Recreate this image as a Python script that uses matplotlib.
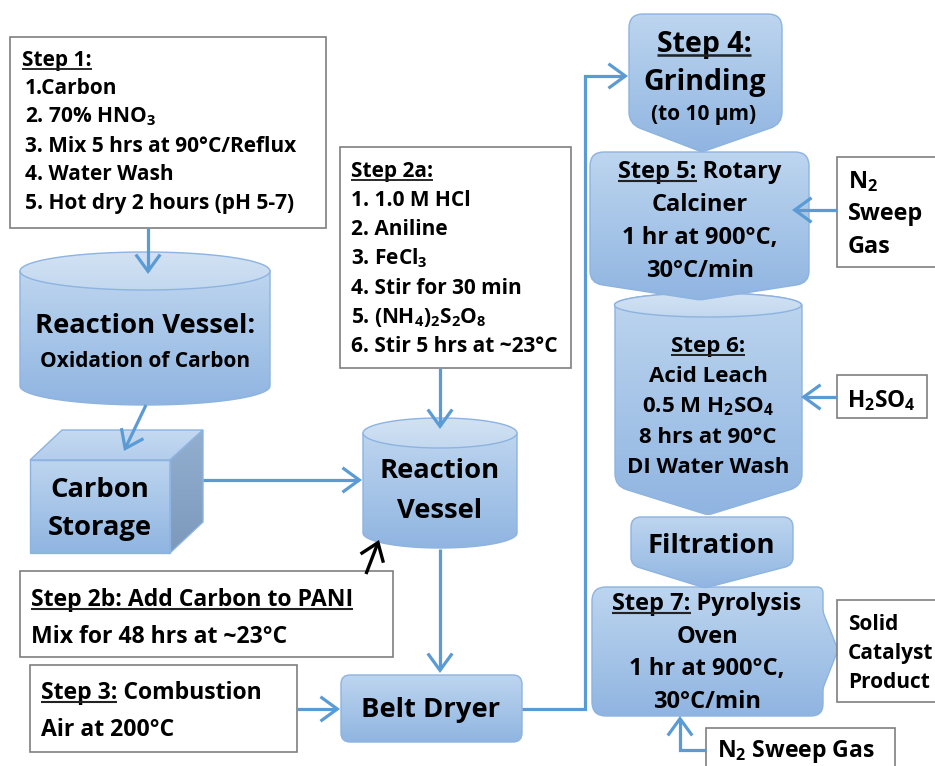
import matplotlib
matplotlib.use('Agg')
import matplotlib.pyplot as plt
import numpy as np
from matplotlib.path import Path
from matplotlib.patches import PathPatch, Rectangle, FancyArrowPatch, ArrowStyle
from matplotlib.colors import LinearSegmentedColormap

plt.rcParams['mathtext.fontset'] = 'custom'
plt.rcParams['mathtext.default'] = 'regular'
FONT = ['Open Sans', 'DejaVu Sans']

# texts of the flow chart
step1_lines = ['1.Carbon', '2. 70% HNO$_3$', '3. Mix 5 hrs at 90°C/Reflux',
               '4. Water Wash', '5. Hot dry 2 hours (pH 5-7)']
step2a_lines = ['1. 1.0 M HCl', '2. Aniline', '3. FeCl$_3$', '4. Stir for 30 min',
                '5. (NH$_4$)$_2$S$_2$O$_8$', '6. Stir 5 hrs at ~23°C']
step2b_lines = ['Step 2b: Add Carbon to PANI', 'Mix for 48 hrs at ~23°C']
step3_lines = ['Step 3: Combustion', 'Air at 200°C']
step4_lines = ['Step 4:', 'Grinding', '(to 10 µm)']
step5_lines = ['Step 5: Rotary', 'Calciner', '1 hr at 900°C,', '30°C/min']
step6_lines = ['Step 6:', 'Acid Leach', '0.5 M H$_2$SO$_4$', '8 hrs at 90°C', 'DI Water Wash']
step7_lines = ['Step 7: Pyrolysis', 'Oven', '1 hr at 900°C,', '30°C/min']
sweep_lines = ['N$_2$', 'Sweep', 'Gas']
product_lines = ['Solid', 'Catalyst', 'Product']

FS = 15
BIG = 19.7
ARROW = '#5B9BD5'
EDGE = '#8DB3E0'
TOP, BOT = '#BDD5EF', '#90B5E1'

fig = plt.figure(figsize=(9.35, 7.66), dpi=100)
ax = fig.add_axes([0, 0, 1, 1])
ax.set_xlim(0, 935)
ax.set_ylim(766, 0)
ax.axis('off')

underlines = []


def txt(x, y, s, size=FS, ha='left', under=None):
    t = ax.text(x, y, s, fontsize=size, fontweight='bold', ha=ha, va='baseline',
                family=FONT, color='black', zorder=20)
    if under:
        underlines.append((t, under, size))
    return t


def rounded_path(pts, r):
    verts, codes = [], []
    n = len(pts)
    for i in range(n):
        p0, p1, p2 = np.array(pts[i - 1], float), np.array(pts[i], float), np.array(pts[(i + 1) % n], float)
        rr = r[i] if np.iterable(r) else r
        if rr <= 0:
            verts.append(p1)
            codes.append(Path.MOVETO if i == 0 else Path.LINETO)
            continue
        d1, d2 = p0 - p1, p2 - p1
        l1, l2 = np.hypot(*d1), np.hypot(*d2)
        rr = min(rr, l1 / 2, l2 / 2)
        a, b = p1 + d1 / l1 * rr, p1 + d2 / l2 * rr
        verts += [a, p1, b]
        codes += [Path.MOVETO if i == 0 else Path.LINETO, Path.CURVE3, Path.CURVE3]
    verts.append(verts[0])
    codes.append(Path.CLOSEPOLY)
    return Path(verts, codes)


def shade(path, z, top=TOP, bot=BOT, edge=EDGE):
    patch = PathPatch(path, facecolor='none', edgecolor=edge, lw=1, zorder=z + 0.1)
    ax.add_patch(patch)
    ext = path.get_extents()
    cmap = LinearSegmentedColormap.from_list('g', [top, bot])
    ax.imshow(np.linspace(0, 1, 200)[:, None], cmap=cmap, aspect='auto',
              extent=(ext.x0, ext.x1, ext.y1, ext.y0), zorder=z, clip_path=patch,
              interpolation='bilinear')


def cylinder(x0, x1, yt, yb, ry, z):
    cx, rx = (x0 + x1) / 2, (x1 - x0) / 2
    # side walls plus the lower half of the bottom ellipse (y grows downward)
    pts = [(x0, yt)] + [(cx - rx * np.cos(a), yb + ry * np.sin(a)) for a in np.linspace(0, np.pi, 60)]
    pts += [(x1, yt)]
    shade(Path(pts + [pts[0]], closed=True), z)
    top = [(cx + rx * np.cos(a), yt + ry * np.sin(a)) for a in np.linspace(0, 2 * np.pi, 100)]
    shade(Path(top, closed=True), z + 0.2, top='#D2E2F3', bot='#C3D8EF')


def box(x0, y0, x1, y1, z=5):
    ax.add_patch(Rectangle((x0, y0), x1 - x0, y1 - y0, facecolor='white',
                           edgecolor='#7F7F7F', lw=1.2, zorder=z))


def arrow(pts, color=ARROW, lw=2.3):
    ax.add_patch(FancyArrowPatch(path=Path(pts), arrowstyle=ArrowStyle('->', head_length=0.55, head_width=0.4),
                                 mutation_scale=22, color=color, lw=lw, zorder=15,
                                 shrinkA=0, shrinkB=0, capstyle='butt', joinstyle='miter'))


# ---- Step 1 box and reaction vessel
box(10, 37, 326, 228)
txt(22, 66, 'Step 1:', under='Step 1:')
for i, s in enumerate(step1_lines):
    txt(25, 94 + 28.8 * i, s)
arrow([(148, 228), (148, 274)])

cylinder(20, 270, 271, 386, 19, 2)
txt(145, 333, 'Reaction Vessel:', size=BIG, ha='center')
txt(145, 367, 'Oxidation of Carbon', size=15, ha='center')
arrow([(146, 405), (124, 451)])

# ---- carbon storage cube
front = [(30, 460), (170, 460), (170, 553), (30, 553)]
shade(Path(front + [front[0]], closed=True), 3)
topf = [(30, 460), (62, 430), (203, 430), (170, 460)]
shade(Path(topf + [topf[0]], closed=True), 3, top='#C5DAF1', bot='#B3CDEC')
side = [(170, 460), (203, 430), (203, 522), (170, 553)]
shade(Path(side + [side[0]], closed=True), 3, top='#93AFD0', bot='#7C98BB')
txt(100, 497, 'Carbon', size=BIG, ha='center')
txt(100, 535, 'Storage', size=BIG, ha='center')
arrow([(203, 480), (362, 480)])

# ---- Step 2a and second reaction vessel
box(340, 147, 571, 368)
txt(351, 177, 'Step 2a:', under='Step 2a:')
for i, s in enumerate(step2a_lines):
    txt(351, 206 + 29.3 * i, s)
arrow([(440, 368), (440, 429)])

cylinder(363, 517, 433, 533, 15, 2)
txt(440, 478, 'Reaction', size=BIG, ha='center')
txt(440, 518, 'Vessel', size=BIG, ha='center')

box(20, 571, 393, 657)
txt(31, 606, step2b_lines[0], size=16.6, under='Step 2b: Add Carbon to PANI')
txt(31, 643, step2b_lines[1], size=16.6)
arrow([(366, 574), (379, 540)], color='black', lw=2.4)

box(30, 665, 297, 752)
txt(41, 699, step3_lines[0], size=16.6, under='Step 3:')
txt(41, 736, step3_lines[1], size=16.6)

# ---- belt dryer
arrow([(440, 549), (440, 673)])
shade(rounded_path([(341, 675), (522, 675), (522, 742), (341, 742)], 9), 2)
txt(431, 717, 'Belt Dryer', size=BIG, ha='center')
arrow([(297, 709), (340, 709)])
arrow([(522, 709), (585, 709), (585, 76), (628, 76)])

# ---- right column
st6 = [(802, 305)] + [(708 + 93.5 * np.cos(a), 305 - 12 * np.sin(a)) for a in np.linspace(0, np.pi, 60)][1:-1] \
      + [(615, 305), (615, 486), (708, 515), (802, 486)]
rad6 = [0] * 59 + [0, 12, 4, 12]
shade(rounded_path(st6, rad6), 2)
top6 = [(708 + 93.5 * np.cos(a), 305 + 12 * np.sin(a)) for a in np.linspace(0, 2 * np.pi, 100)]
shade(Path(top6, closed=True), 2.2, top='#D2E2F3', bot='#C3D8EF')

shade(rounded_path([(629, 14), (782, 14), (782, 124), (702, 152), (629, 124)], [14, 14, 12, 3, 12]), 4)
shade(rounded_path([(590, 152), (809, 152), (809, 283), (700, 300), (590, 283)], [14, 14, 12, 3, 12]), 4)
shade(rounded_path([(631, 517), (793, 517), (793, 565), (705, 588), (631, 565)], [10, 10, 8, 3, 8]), 4)
shade(rounded_path([(592, 587), (823, 587), (823, 612), (838, 650), (823, 688), (823, 716), (592, 716)],
                   [14, 6, 3, 3, 3, 12, 14]), 4)

txt(704, 52, step4_lines[0], size=20.5, ha='center', under='Step 4:')
txt(705, 90, step4_lines[1], size=20.5, ha='center')
txt(704, 120, step4_lines[2], size=15, ha='center')

for i, s in enumerate(step5_lines):
    txt(700, 178 + 33 * i, s, size=17, ha='center', under='Step 5:' if i == 0 else None)

for i, s in enumerate(step6_lines):
    txt(708, 352 + 30.3 * i, s, size=16, ha='center', under='Step 6:' if i == 0 else None)

txt(711, 553, 'Filtration', size=BIG, ha='center')

for i, s in enumerate(step7_lines):
    txt(707, 610 + 32.7 * i, s, size=17, ha='center', under='Step 7:' if i == 0 else None)

box(837, 157, 945, 267)
for i, s in enumerate(sweep_lines):
    txt(848, 188 + 32.5 * i, s, size=16.8)
arrow([(837, 210), (792, 210)])

box(837, 375, 927, 418)
txt(847, 407, 'H$_2$SO$_4$', size=16.3)
arrow([(837, 397), (801, 397)])

box(837, 600, 945, 702)
for i, s in enumerate(product_lines):
    txt(848, 630 + 29 * i, s, size=15)

box(706, 728, 895, 775)
txt(717, 757, 'N$_2$ Sweep Gas', size=16.6)
arrow([(706, 750), (680, 750), (680, 716)])

# ---- underline the step labels
fig.canvas.draw()
r = fig.canvas.get_renderer()
inv = ax.transData.inverted()
for t, pre, size in underlines:
    bb = t.get_window_extent(r)
    tmp = ax.text(0, 0, pre, fontsize=size, fontweight='bold', family=FONT)
    w = tmp.get_window_extent(r).width
    tmp.remove()
    x0 = inv.transform((bb.x0, 0))[0]
    x1 = inv.transform((bb.x0 + w, 0))[0]
    y = t.get_position()[1] + 0.17 * size
    ax.plot([x0, x1], [y, y], color='#222222', lw=0.09 * size, zorder=21, solid_capstyle='butt')

ax.set_xlim(0, 935)
ax.set_ylim(766, 0)
fig.savefig('out.png', dpi=100)
